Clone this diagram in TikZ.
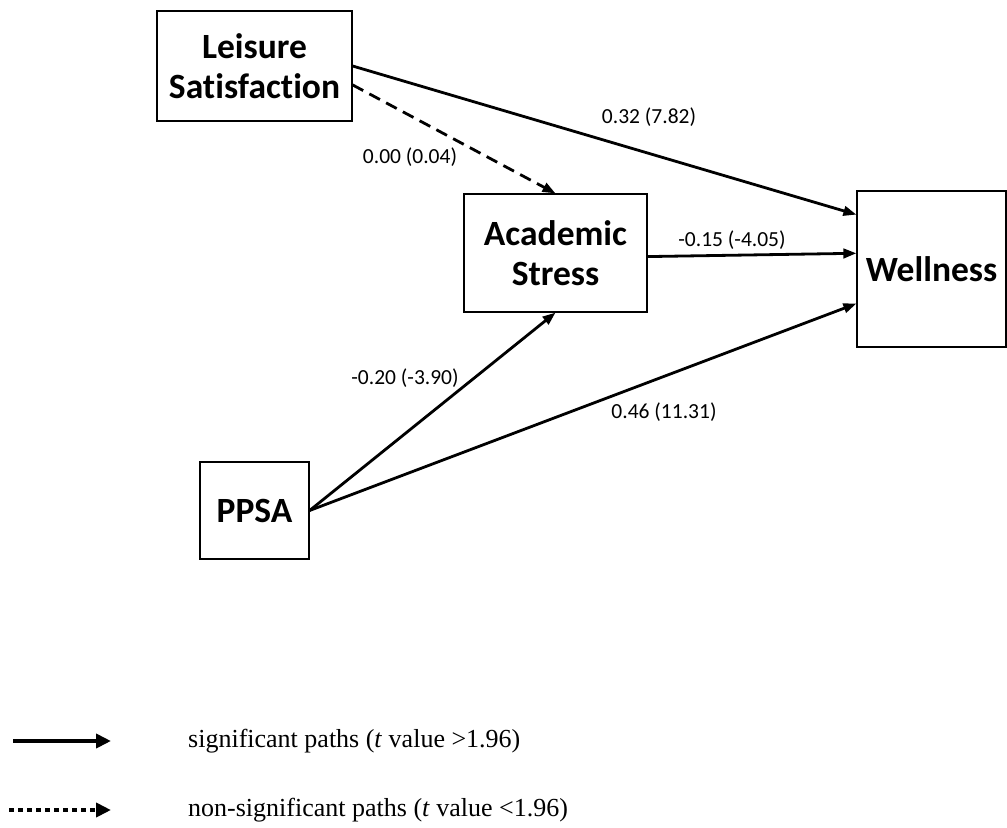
\documentclass[tikz,border=0pt]{standalone}
\usepackage{fontspec}
\setmainfont{Liberation Serif}
\newfontfamily\boxfont[Ligatures=NoCommon]{Carlito}
\usetikzlibrary{arrows.meta,calc}
\begin{document}
\begin{tikzpicture}[x=1bp,y=-1bp,
  varbox/.style={draw,line width=1.2bp,inner sep=0pt,align=center,
    font=\boxfont\bfseries\fontsize{35.5bp}{40bp}\selectfont},
  pathlabel/.style={font=\boxfont\fontsize{21.5bp}{25bp}\selectfont,inner sep=0pt},
  sigpath/.style={line width=2.8bp,-{Triangle[length=13bp,width=9.5bp]}},
  nonsigpath/.style={sigpath,dash pattern=on 12bp off 7bp},
  legendtext/.style={anchor=west,inner sep=0pt,font=\fontsize{26bp}{30bp}\selectfont}]
\useasboundingbox (0,0) rectangle (1007,828);

% variables
\node[varbox,minimum width=195bp,minimum height=110bp] (ls) at (254.5,66) {Leisure\\Satisfaction};
\node[varbox,minimum width=183bp,minimum height=118bp] (as) at (555.5,253) {Academic\\Stress};
\node[varbox,minimum width=149bp,minimum height=156bp] (w) at (931.5,269) {Wellness};
\node[varbox,minimum width=109bp,minimum height=97bp] (pp) at (254.5,510.5) {PPSA};

% attachment points on the sides of the boxes
\coordinate (lsdash) at ($(ls.north east)!0.67!(ls.south east)$);
\coordinate (wtop) at ($(w.north west)!0.154!(w.south west)$);
\coordinate (wmid) at ($(w.north west)!0.40!(w.south west)$);
\coordinate (wlow) at ($(w.north west)!0.72!(w.south west)$);
\coordinate (asout) at ($(as.north east)!0.53!(as.south east)$);

% paths
\draw[sigpath] (ls.east) -- (wtop);
\draw[nonsigpath] (lsdash) -- (as.north);
\draw[sigpath] (asout) -- (wmid);
\draw[sigpath] (pp.east) -- (as.south);
\draw[sigpath] (pp.east) -- (wlow);

% path coefficients
\node[pathlabel] (l1) at (649,117) {0.32 (7.82)};
\node[pathlabel] (l2) at (410,157) {0.00 (0.04)};
\node[pathlabel] (l3) at (732,240) {-0.15 (-4.05)};
\node[pathlabel] (l4) at (405,378) {-0.20 (-3.90)};
\node[pathlabel] (l5) at (664,412) {0.46 (11.31)};

% legend
\coordinate (ka) at (13,741);
\coordinate (kb) at (111,741);
\coordinate (kc) at (9,810);
\coordinate (kd) at (111,810);
\draw[line width=4bp,-{Triangle[length=15bp,width=14bp]}] (ka) -- (kb);
\draw[line width=4bp,dash pattern=on 5bp off 4bp,-{Triangle[length=15bp,width=14bp]}] (kc) -- (kd);
\node[legendtext] (t1) at (188,741) {significant paths (\textit{t} value >1.96)};
\node[legendtext] (t2) at (188,810) {non-significant paths (\textit{t} value <1.96)};
\end{tikzpicture}
\end{document}
